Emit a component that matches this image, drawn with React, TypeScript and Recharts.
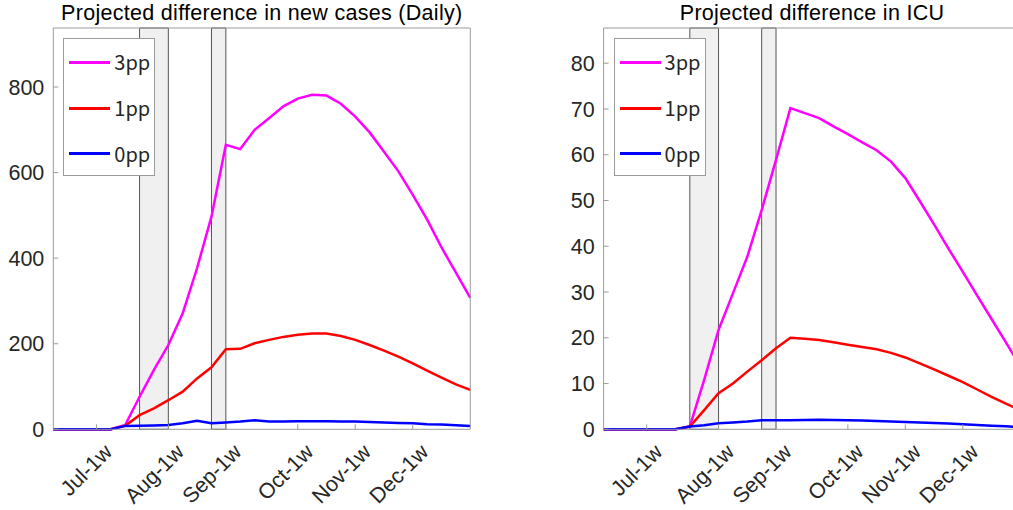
import { Legend, Line, LineChart, ReferenceArea, XAxis, YAxis } from 'recharts'

const FONT = '"Liberation Sans", Arial, Helvetica, sans-serif'
const LEGEND_FONT = '"Noto Sans CJK JP", "Noto Sans", sans-serif'
const AXIS = '#9b9b9b'
const INK = '#262626'

// one point per week
const weeks = [
  'Jun-2w', 'Jun-3w', 'Jun-4w',
  'Jul-1w', 'Jul-2w', 'Jul-3w', 'Jul-4w', 'Jul-5w',
  'Aug-1w', 'Aug-2w', 'Aug-3w', 'Aug-4w',
  'Sep-1w', 'Sep-2w', 'Sep-3w', 'Sep-4w', 'Sep-5w',
  'Oct-1w', 'Oct-2w', 'Oct-3w', 'Oct-4w',
  'Nov-1w', 'Nov-2w', 'Nov-3w', 'Nov-4w',
  'Dec-1w', 'Dec-2w', 'Dec-3w', 'Dec-4w', 'Dec-5w',
]
const monthTicks = ['Jul-1w', 'Aug-1w', 'Sep-1w', 'Oct-1w', 'Nov-1w', 'Dec-1w']
const legendOrder = ['3pp', '1pp', '0pp']

// shaded periods (start week, end week)
const shaded = [
  ['Jul-4w', 'Aug-1w'],
  ['Aug-4w', 'Sep-1w'],
]

const cases3pp = [0, 0, 0, 0, 0, 10, 76, 139, 197, 271, 377, 497, 665, 655, 700, 727, 755, 773, 782, 780, 761, 731, 694, 649, 603, 548, 490, 425, 366, 307]
const cases1pp = [0, 0, 0, 0, 0, 8, 33, 49, 68, 88, 119, 145, 187, 188, 201, 209, 216, 221, 224, 224, 218, 209, 197, 184, 170, 154, 137, 121, 105, 92]
const cases0pp = [0, 0, 0, 0, 0, 8, 8.5, 9, 10, 14, 20, 14, 16, 18, 21, 18, 18, 19, 19, 19, 18.5, 18, 17, 16, 15, 14, 12, 11, 9.5, 8]
const casesTicks = [0, 200, 400, 600, 800]

const icu3pp = [0, 0, 0, 0, 0, 0, 0.6, 10.8, 21.7, 29.7, 37.7, 47.9, 58.9, 70.2, 69.1, 68.0, 66.2, 64.5, 62.7, 61.0, 58.5, 54.9, 49.9, 44.8, 39.5, 34.4, 29.2, 24.1, 19.0, 13.8]
const icu1pp = [0, 0, 0, 0, 0, 0, 0.6, 4.2, 7.9, 10.0, 12.6, 15.1, 17.7, 20.0, 19.8, 19.5, 19.0, 18.5, 18.0, 17.5, 16.7, 15.7, 14.4, 13.1, 11.7, 10.3, 8.7, 7.1, 5.6, 4.2]
const icu0pp = [0, 0, 0, 0, 0, 0, 0.6, 0.9, 1.3, 1.5, 1.7, 2.0, 2.0, 2.0, 2.05, 2.1, 2.05, 2.0, 1.9, 1.8, 1.7, 1.6, 1.5, 1.35, 1.25, 1.1, 0.95, 0.8, 0.65, 0.45]
const icuTicks = [0, 10, 20, 30, 40, 50, 60, 70, 80]

const buildRows = (p3: number[], p1: number[], p0: number[]) =>
  weeks.map((week, i) => ({ week, p3: p3[i], p1: p1[i], p0: p0[i] }))

function WeekTick(props: any) {
  const { x, y, payload } = props
  return (
    <text
      x={0}
      y={0}
      transform={`translate(${x + 12},${y + 19}) rotate(-45)`}
      textAnchor="end"
      dominantBaseline="central"
      fill={INK}
      fontSize={21.5}
      fontFamily={FONT}
    >
      {payload.value}
    </text>
  )
}

function LegendBox({ payload }: any) {
  const rowY = [23.4, 69.4, 114.7]
  const items = [...(payload || [])].sort(
    (a: any, b: any) => legendOrder.indexOf(a.value) - legendOrder.indexOf(b.value),
  )
  return (
    <div
      style={{
        position: 'relative',
        width: 92,
        height: 138,
        boxSizing: 'border-box',
        border: `1px solid ${AXIS}`,
        background: '#fff',
      }}
    >
      {items.map((p: any, i: number) => (
        <div key={p.value}>
          <div
            style={{
              position: 'absolute',
              left: 5,
              top: rowY[i] - 1.5,
              width: 41,
              height: 3,
              background: p.color,
            }}
          />
          <div
            style={{
              position: 'absolute',
              left: 50,
              top: rowY[i] - 14,
              height: 28,
              lineHeight: '28px',
              fontSize: 20,
              fontFamily: LEGEND_FONT,
              color: INK,
            }}
          >
            {p.value}
          </div>
        </div>
      ))}
    </div>
  )
}

type PanelProps = {
  title: string
  left: number
  marginLeft: number
  yMax: number
  yTicks: number[]
  rows: Array<Record<string, string | number>>
}

function Panel({ title, left, marginLeft, yMax, yTicks, rows }: PanelProps) {
  const plotLeft = marginLeft + 50
  return (
    <div style={{ position: 'absolute', left, top: 0, width: 500, height: 510 }}>
      <div
        style={{
          position: 'absolute',
          left: plotLeft,
          top: 2,
          width: 417,
          textAlign: 'center',
          fontFamily: FONT,
          fontSize: 21.5,
          letterSpacing: 0.3,
          lineHeight: '22px',
          color: '#000',
          whiteSpace: 'nowrap',
        }}
      >
        {title}
      </div>
      <LineChart width={500} height={510} data={rows} margin={{ top: 27, left: marginLeft, right: 28.7, bottom: 20.7 }}>
        {shaded.map(([a, b]) => (
          <ReferenceArea key={a} x1={a} x2={b} fill="#f0f0f0" fillOpacity={1} stroke="#555" strokeWidth={1} />
        ))}
        <XAxis
          dataKey="week"
          height={60}
          interval={0}
          ticks={monthTicks}
          tick={<WeekTick />}
          tickSize={-5}
          tickMargin={5}
          stroke={AXIS}
        />
        <XAxis xAxisId="top" dataKey="week" orientation="top" height={1} interval={0} ticks={monthTicks} tick={false} tickSize={-5} stroke={AXIS} />
        <YAxis
          type="number"
          width={50}
          domain={[0, yMax]}
          ticks={yTicks}
          tickSize={-5}
          tickMargin={14}
          stroke={AXIS}
          tick={{ fill: INK, fontSize: 21.5, fontFamily: FONT }}
        />
        <YAxis yAxisId="r" type="number" orientation="right" width={1} domain={[0, yMax]} ticks={yTicks} tick={false} tickSize={-5} stroke={AXIS} />
        <Line type="linear" dataKey="p3" name="3pp" stroke="#ff00ff" strokeWidth={2.5} dot={false} isAnimationActive={false} />
        <Line type="linear" dataKey="p1" name="1pp" stroke="#ff0000" strokeWidth={2.5} dot={false} isAnimationActive={false} />
        <Line type="linear" dataKey="p0" name="0pp" stroke="#0000ff" strokeWidth={2.5} dot={false} isAnimationActive={false} />
        <Legend
          layout="vertical"
          align="center"
          verticalAlign="middle"
          content={<LegendBox />}
          wrapperStyle={{ position: 'absolute', left: plotLeft + 10, top: 38, width: 92, height: 138 }}
        />
      </LineChart>
    </div>
  )
}

export default function App() {
  return (
    <div style={{ position: 'absolute', left: 0, top: 0, width: 1013, height: 510, overflow: 'hidden', background: '#fff' }}>
      <Panel
        title="Projected difference in new cases (Daily)"
        left={0}
        marginLeft={3.3}
        yMax={938}
        yTicks={casesTicks}
        rows={buildRows(cases3pp, cases1pp, cases0pp)}
      />
      <Panel
        title="Projected difference in ICU"
        left={550}
        marginLeft={3.6}
        yMax={87.7}
        yTicks={icuTicks}
        rows={buildRows(icu3pp, icu1pp, icu0pp)}
      />
    </div>
  )
}
